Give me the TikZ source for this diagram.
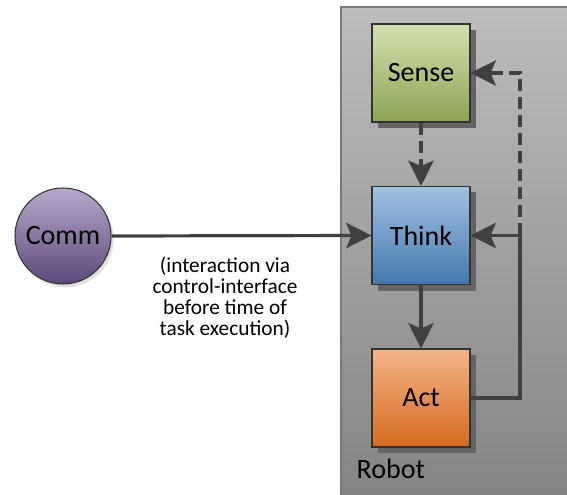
\documentclass[tikz,border=0pt]{standalone}
\usepackage{fontspec}
\setmainfont{Carlito}
\usetikzlibrary{arrows.meta,shadows}
\definecolor{linec}{HTML}{404040}
\definecolor{shadowc}{HTML}{646464}
\tikzset{
  blk/.style={draw=linec!80!black, line width=0.8pt, minimum width=73.5pt, minimum height=73.5pt,
    inner sep=0pt, font=\fontsize{21}{24}\selectfont,
    drop shadow={shadow xshift=4.5pt, shadow yshift=-4.5pt, fill=shadowc, opacity=1}},
  conn/.style={draw=linec, line width=2.4pt, -{Stealth[length=19pt,width=19pt,inset=4pt]}},
  dconn/.style={conn, dash pattern=on 9pt off 4.5pt},
}
\begin{document}
\begin{tikzpicture}[x=0.75pt,y=-0.75pt]
\useasboundingbox (0,0) rectangle (567,495);
% container
\path[top color={rgb,255:red,188;green,188;blue,188}, bottom color={rgb,255:red,132;green,132;blue,132}, draw=linec!70, line width=0.8pt]
  (341,7) rectangle (572,500);
\node[anchor=base west, font=\fontsize{21}{24}\selectfont] (robot) at (352,478) {Robot};
% blocks
\node[blk, top color={rgb,255:red,212;green,224;blue,176}, bottom color={rgb,255:red,140;green,164;blue,84}] (sense) at (421,73) {Sense};
\node[blk, top color={rgb,255:red,160;green,194;blue,226}, bottom color={rgb,255:red,68;green,120;blue,172}] (think) at (421,235.5) {Think};
\node[blk, top color={rgb,255:red,244;green,180;blue,136}, bottom color={rgb,255:red,214;green,106;blue,32}] (act) at (421,398) {Act};
% comm
\node[circle, draw=linec!80!black, line width=0.8pt, minimum size=72pt, inner sep=0pt,
  top color={rgb,255:red,184;green,168;blue,204}, bottom color={rgb,255:red,92;green,72;blue,124},
  font=\fontsize{21}{24}\selectfont,
  drop shadow={shadow xshift=2pt, shadow yshift=-2.5pt, fill=black, opacity=0.12}] (comm) at (63,236) {Comm};
% label
\node[align=center, font=\fontsize{16}{15.75}\selectfont] (lbl) at (225,298)
  {(interaction via\\control-interface\\before time of\\task execution)};
% connectors
\coordinate (lx) at (520,0);
\draw[conn] (comm.east) -- (think.west);
\draw[dconn] (sense.south) -- (think.north);
\draw[conn] (think.south) -- (act.north);
\draw[conn] (act.east) -| (lx |- think.east) -- (think.east);
\draw[dconn] (lx |- think.east) -- (lx |- sense.east) -- (sense.east);
\end{tikzpicture}
\end{document}
